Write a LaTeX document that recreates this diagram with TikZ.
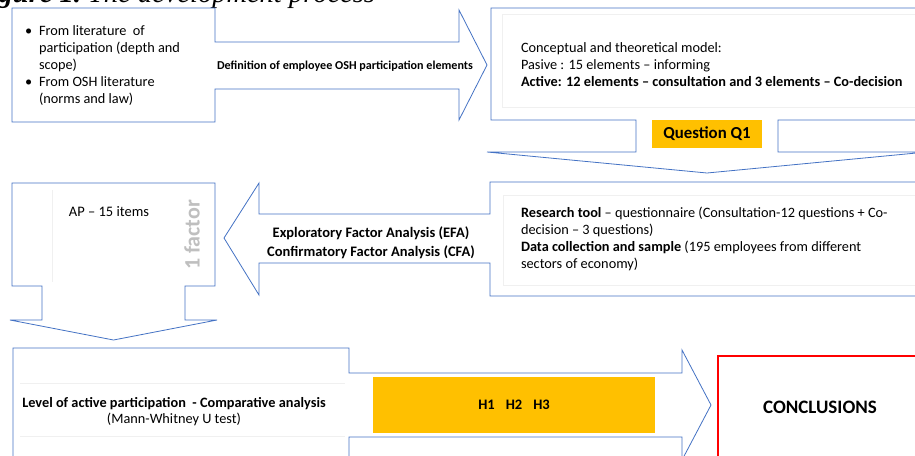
\documentclass[tikz,border=0pt]{standalone}
\usepackage{fontspec}
\setmainfont{Carlito}
\newfontfamily\titlefont{Liberation Serif}
\definecolor{edge}{RGB}{68,114,196}
\definecolor{gold}{RGB}{255,192,0}
\definecolor{faint}{RGB}{240,240,240}
\definecolor{factorgray}{RGB}{191,191,191}
\begin{document}
\begin{tikzpicture}[x=1pt,y=-1pt,
  shp/.style={draw=edge, line width=0.8pt, line join=miter, fill=white},
  fnt/.style={draw=faint, line width=0.6pt},
  txt/.style={inner sep=0pt, outer sep=0pt},
  body/.style={txt, anchor=base west, font=\fontsize{14.3}{16}\selectfont},
  bodyb/.style={txt, anchor=base, font=\bfseries\fontsize{14.5}{16}\selectfont}]
\useasboundingbox (0,0) rectangle (915,455);
\clip (0,0) rectangle (915,455);
\fill[white] (0,0) rectangle (915,455);

% title (cut off at top)
\node[txt, anchor=base west, font=\titlefont\itshape\fontsize{28.5}{30}\selectfont] (title2) at (88,2) {The development process};
\node[txt, anchor=base east, font=\titlefont\itshape\bfseries\fontsize{28.5}{30}\selectfont] (title1) at (81,2) {Figure 1.};

% shape 1: box with right arrow
\draw[shp] (12,8) -- (215,8) -- (215,42) -- (459,42) -- (459,10) -- (487,65) -- (459,120) -- (459,89) -- (215,89) -- (215,122) -- (12,122) -- cycle;
% shape 2: box with down arrow
\draw[shp] (491,8) -- (923,8) -- (923,120) -- (778,120) -- (778,152) -- (927,152) -- (707,173) -- (487,152) -- (636,152) -- (636,120) -- (491,120) -- cycle;
\draw[fnt] (502,14) rectangle (930,107);
% shape 3: left box with down arrow
\draw[shp] (12,183) -- (215,183) -- (215,286) -- (185,286) -- (185,320) -- (217,320) -- (113.5,340) -- (10,320) -- (42,320) -- (42,286) -- (12,286) -- cycle;
\draw[fnt] (52,190) -- (52,282);
% shape 4: right box with left arrow
\draw[shp] (930,182) -- (490,182) -- (490,214) -- (259,214) -- (259,183) -- (224,238) -- (259,295) -- (259,263) -- (490,263) -- (490,296) -- (930,296) -- cycle;
\draw[fnt] (503,195) rectangle (930,285);
% shape 5: bottom box with right arrow
\draw[shp] (13,348) -- (349,348) -- (349,373) -- (682,373) -- (682,350) -- (711,405) -- (682,460) -- (682,437) -- (349,437) -- (349,462) -- (13,462) -- cycle;
\draw[fnt] (20,383) -- (345,383);
\draw[fnt] (20,436) -- (345,436);

% orange boxes
\node[txt, fill=gold, minimum width=110pt, minimum height=28pt, font=\bfseries\fontsize{16.8}{18}\selectfont] (q1) at (707,134) {Question Q1};
\node[txt, fill=gold, minimum width=282pt, minimum height=56pt, font=\bfseries\fontsize{14.5}{16}\selectfont] (hyp) at (514,405) {H1\hspace{11pt}H2\hspace{11pt}H3};

% conclusions
\draw[draw=red, line width=2pt] (718,356) rectangle (935,470);
\node[txt, font=\bfseries\fontsize{19}{21}\selectfont] (concl) at (820,407) {CONCLUSIONS};

% box 1 text
\node[body] (b1) at (25,35) {\textbullet};
\node[body] (b2) at (25,86) {\textbullet};
\node[body] (l1) at (39,35) {From literature\ \ of};
\node[body] (l2) at (39,52) {participation (depth and};
\node[body] (l3) at (39,69) {scope)};
\node[body] (l4) at (39,86) {From OSH literature};
\node[body] (l5) at (39,103) {(norms and law)};
\node[txt, anchor=base, font=\bfseries\fontsize{12.1}{14}\selectfont] (def) at (345,69) {Definition of employee OSH participation elements};

% box 2 text
\node[body] (m1) at (521,52) {Conceptual and theoretical model:};
\node[body] (m2) at (521,69) {Pasive : 15 elements -- informing};
\node[body, font=\bfseries\fontsize{14.3}{16}\selectfont] (m3) at (521,86) {Active: 12 elements -- consultation\ and 3 elements -- Co-decision};

% box 3 text
\node[txt, anchor=base, font=\fontsize{14.5}{16}\selectfont] (ap) at (109,216) {AP -- 15 items};
\node[txt, rotate=90, text=factorgray, font=\bfseries\fontsize{22}{24}\selectfont] (fac) at (192,235) {1 factor};

% arrow 4 text
\node[bodyb] (efa) at (371,237) {Exploratory Factor Analysis (EFA)};
\node[bodyb] (cfa) at (371,256) {Confirmatory Factor Analysis (CFA)};

% box 4 text
\node[body] (r1) at (521,217) {\textbf{Research tool} -- questionnaire (Consultation-12 questions + Co-};
\node[body] (r2) at (521,234) {decision -- 3 questions)};
\node[body] (r3) at (521,251) {\textbf{Data collection and sample} (195 employees from different};
\node[body] (r4) at (521,268) {sectors of economy)};

% box 5 text
\node[txt, anchor=base, font=\bfseries\fontsize{14.3}{16}\selectfont] (lev) at (174,407) {Level of active participation\ \ - Comparative analysis};
\node[txt, anchor=base, font=\fontsize{14.3}{16}\selectfont] (mw) at (174,423) {(Mann-Whitney U test)};
\end{tikzpicture}
\end{document}
